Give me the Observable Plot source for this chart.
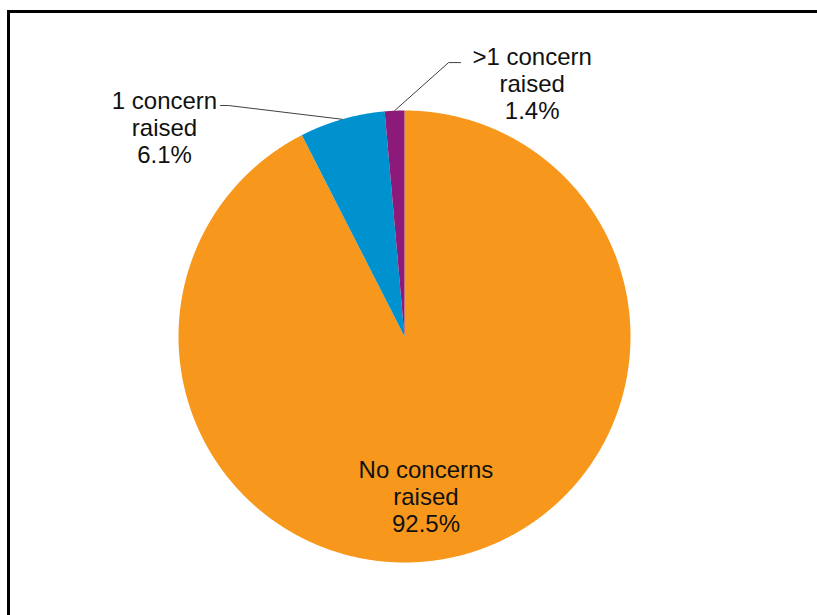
<!DOCTYPE html>
<html>
<head>
<meta charset="utf-8">
<script src="https://cdn.jsdelivr.net/npm/d3@7"></script>
<script src="https://cdn.jsdelivr.net/npm/@observablehq/plot@0.6"></script>
<style>
  html, body { margin: 0; padding: 0; background: #fff; overflow: hidden; }
  #wrap { position: relative; width: 817px; height: 615px; }
  #frame { position: absolute; left: 7px; top: 10px; width: 900px; height: 700px; border: 3px solid #000; pointer-events: none; }
  #chart { position: absolute; left: 0; top: 0; }
</style>
</head>
<body>
<div id="wrap"><div id="chart"></div><div id="frame"></div></div>
<script>
// ---- data ----
const categories = ["No concerns raised", "1 concern raised", ">1 concern raised"];
const labelNames = ["No concerns\nraised", "1 concern\nraised", ">1 concern\nraised"];
const percentages = [92.5, 6.1, 1.4];
const colors = ["#F7981D", "#0092CF", "#8B1A7A"];

// ---- layout (data units, pie radius = 1) ----
const labelAnchors = [[0.095, -0.706], [-1.062, 0.927], [0.565, 1.121]];
const leaderElbows = [null, [[-0.814, 1.022], [-0.779, 1.022]], [[0.248, 1.212], [0.195, 1.212]]];

const slices = d3.pie().sort(null).value(d => d.value)(
  categories.map((c, i) => ({cat: c, value: percentages[i]}))
);

// slice outlines (center -> arc -> center)
const polyPts = [];
slices.forEach(s => {
  const n = Math.max(2, Math.ceil((s.endAngle - s.startAngle) / (Math.PI / 720)));
  polyPts.push({cat: s.data.cat, x: 0, y: 0});
  for (let k = 0; k <= n; k++) {
    const a = s.startAngle + (s.endAngle - s.startAngle) * k / n;
    polyPts.push({cat: s.data.cat, x: Math.sin(a), y: Math.cos(a)});
  }
});

// leader lines
const leaderPts = [];
slices.forEach((s, i) => {
  if (!leaderElbows[i]) return;
  const mid = (s.startAngle + s.endAngle) / 2;
  leaderElbows[i].forEach(p => leaderPts.push({cat: s.data.cat, x: p[0], y: p[1]}));
  leaderPts.push({cat: s.data.cat, x: Math.sin(mid), y: Math.cos(mid)});
});

const labels = categories.map((c, i) => ({
  text: labelNames[i] + "\n" + percentages[i].toFixed(1) + "%",
  x: labelAnchors[i][0], y: labelAnchors[i][1]
}));

const chart = Plot.plot({
  width: 817,
  height: 615,
  marginLeft: 178,
  marginRight: 187,
  marginTop: 110,
  marginBottom: 53,
  x: {domain: [-1, 1], axis: null},
  y: {domain: [-1, 1], axis: null},
  color: {domain: categories, range: colors},
  style: {background: "transparent", fontFamily: "'Liberation Sans', Arial, sans-serif"},
  marks: [
    Plot.line(polyPts, {x: "x", y: "y", z: "cat", fill: "cat", stroke: null, curve: "linear"}),
    Plot.line(leaderPts, {x: "x", y: "y", z: "cat", stroke: "#404040", strokeWidth: 1}),
    Plot.text(labels, {x: "x", y: "y", text: "text", fontSize: 24, lineHeight: 1.13, lineAnchor: "middle", textAnchor: "middle", fill: "#111"})
  ]
});
document.getElementById("chart").appendChild(chart);
</script>
</body>
</html>
